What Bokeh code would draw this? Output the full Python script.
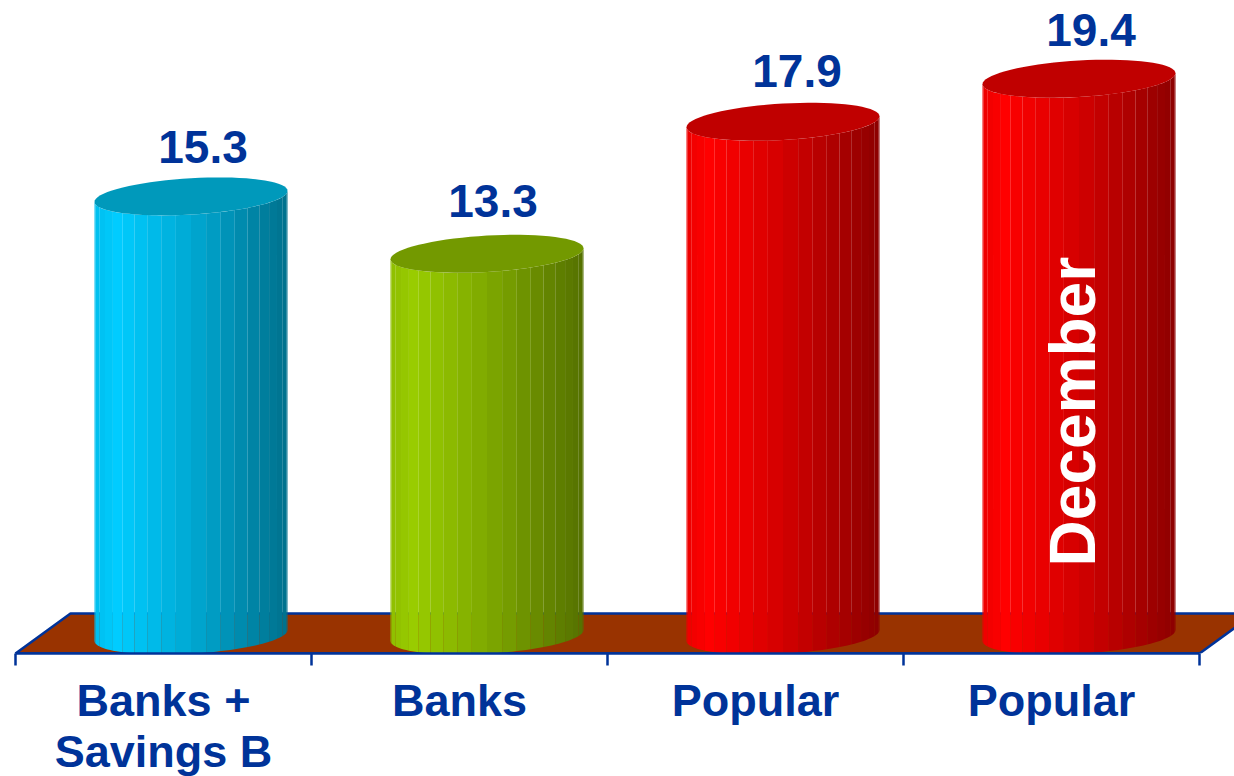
import numpy as np
from bokeh.plotting import figure
from bokeh.models import FixedTicker, Range1d, LinearAxis
from bokeh.core.properties import value as V
from bokeh.embed import file_html
from bokeh.resources import INLINE

categories = ["Banks +\nSavings B", "Banks", "Popular", "Popular"]
values = [15.3, 13.3, 17.9, 19.4]
base_rgb = [(0, 204, 255), (153, 204, 0), (255, 0, 0), (255, 0, 0)]
cap_colors = ["#0099bb", "#739900", "#c00000", "#c00000"]
inner_label = "December"

NAVY = "#003399"
FLOOR = "#993300"
FONT = "Liberation Sans"
W, H = 1234, 776
PX_X = 296.0      # pixels per category
PX_Y = 28.7       # pixels per value unit
BOTTOM_PX = 123
ZERO_ABOVE_FRAME_BOTTOM = 18
LABEL_DX = [12, 6, 14, 12]
LABEL_DY = [49, 53, 51, 49]

xr = Range1d(-15 / PX_X, (W - 15) / PX_X)
y_lo = -ZERO_ABOVE_FRAME_BOTTOM / PX_Y
yr = Range1d(y_lo, y_lo + (H - BOTTOM_PX) / PX_Y)

p = figure(width=W, height=H, x_range=xr, y_range=yr, output_backend="svg",
           toolbar_location=None, min_border=0, min_border_left=0, min_border_right=0,
           min_border_top=0, min_border_bottom=BOTTOM_PX, outline_line_color=None,
           background_fill_color="white", border_fill_color="white",
           x_axis_type=None, y_axis_type=None)
p.frame_width = W
p.frame_height = H - BOTTOM_PX
p.grid.visible = False

# Floor
depth_x, depth_y = 55 / PX_X, 40 / PX_Y
n = len(values)
p.patch([0, n, n + depth_x, depth_x], [y_lo, y_lo, y_lo + depth_y, y_lo + depth_y],
        fill_color=FLOOR, line_color=NAVY, line_width=2.5)

# Axis
ax = LinearAxis(ticker=FixedTicker(ticks=[i + 0.5 for i in range(n)], minor_ticks=list(range(n + 1))))
ax.bounds = (0, n)
ax.major_label_overrides = {i + 0.5: c for i, c in enumerate(categories)}
ax.major_tick_out = 0
ax.major_tick_in = 0
ax.minor_tick_out = 12
ax.minor_tick_in = 0
ax.minor_tick_line_color = NAVY
ax.minor_tick_line_width = 2.5
ax.axis_line_color = NAVY
ax.axis_line_width = 2.5
ax.major_label_text_font = FONT
ax.major_label_text_font_style = "bold"
ax.major_label_text_font_size = "45px"
ax.major_label_text_color = NAVY
ax.major_label_text_line_height = 1.0
ax.major_label_standoff = 9
ax.major_label_orientation = "horizontal"
p.add_layout(ax, "below")

# Cylinders
half_w = 96.5 / PX_X
b_y = 18.2 / PX_Y
tilt = 0.057 * PX_X / PX_Y
shift = 27.5 / PX_X
theta = np.linspace(np.pi, 0, 21)
fr = np.cos(theta)          # -1..1 across the width


def shade(f):
    return np.interp(f, [0, 0.12, 0.55, 1], [0.93, 1.0, 0.8, 0.55])


def hex_of(rgb, m):
    return "#%02x%02x%02x" % tuple(int(round(c * m)) for c in rgb)


def front(u):
    return -b_y * np.sqrt(np.clip(1 - u * u, 0, 1)) + tilt * half_w * u


for i, (v, rgb, cap) in enumerate(zip(values, base_rgb, cap_colors)):
    cx = i + 0.5 + shift
    xs, ys, cols = [], [], []
    for u0, u1 in zip(fr[:-1], fr[1:]):
        uu = np.linspace(u0, u1, 4)
        top = v + front(uu)
        bot = front(uu)
        xs.append(list(cx + half_w * uu) + list(cx + half_w * uu[::-1]))
        ys.append(list(top) + list(bot[::-1]))
        cols.append(hex_of(rgb, shade(((u0 + u1) / 2 + 1) / 2)))
    p.patches(xs, ys, fill_color=cols, line_color=None)
    t = np.linspace(0, 2 * np.pi, 73)
    p.patch(cx + half_w * np.cos(t), v + b_y * np.sin(t) + tilt * half_w * np.cos(t),
            fill_color=cap, line_color=None)
    p.text([cx + LABEL_DX[i] / PX_X], [v + LABEL_DY[i] / PX_Y], text=[f"{v:.1f}"], text_align="center",
           text_baseline="alphabetic", text_font=V(FONT), text_font_style="bold",
           text_font_size="46px", text_color=NAVY)

# Inner rotated label on last bar
p.text([n - 1 + 0.5 + shift - 6 / PX_X], [7.8], text=[inner_label], angle=np.pi / 2,
       text_align="center", text_baseline="middle", text_font=V(FONT),
       text_font_style="bold", text_font_size="64px", text_color="white")

open("out.html", "w").write(file_html(p, INLINE))
